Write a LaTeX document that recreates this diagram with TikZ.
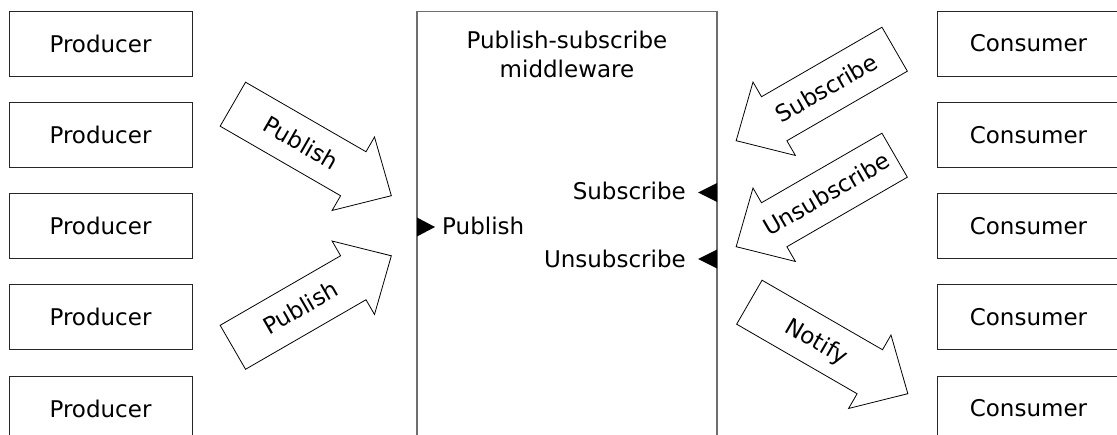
\documentclass[tikz,border=0pt]{standalone}
\usepackage{fontspec}
\setmainfont{DejaVu Sans}
\usetikzlibrary{shapes.arrows}
\definecolor{mwgray}{RGB}{110,110,110}

\begin{document}
\begin{tikzpicture}[x=1pt, y=-1pt,
    font=\fontsize{23}{29}\selectfont,
    box/.style={draw=black!85, line width=0.8pt, minimum width=183pt,
      minimum height=65pt, inner sep=0pt},
    bigarrow/.style={draw, line width=0.8pt, single arrow, minimum height=183pt,
      single arrow head extend=17pt, single arrow tip angle=88,
      text height=17pt, text depth=1pt, inner ysep=16pt, inner xsep=0pt},
    label/.style={inner sep=0pt}]
    \clip (0,0) rectangle (1117,435);

    \foreach \n in {1,...,5} {
      \pgfmathsetmacro\y{43.5 + (\n-1)*91.25}
      \node[box] (prod\n) at (100.5, \y) {Producer};
      \node[box] (cons\n) at (1028.5, \y) {Consumer};
    }

    % the middleware itself
    \node[draw=mwgray, line width=1.2pt, minimum width=300pt, minimum height=440pt,
      anchor=north] (mw) at (567, 11) {};
    \node[align=center, anchor=base, inner sep=0pt] (mwtitle) at (567, 78)
      {Publish-subscribe\\middleware};

    % ports on the middleware
    \coordinate (pubport)   at (417, 227);
    \coordinate (subport)   at (717, 192.5);
    \coordinate (unsubport) at (717, 259);
    \fill (pubport) -- ++(0,-9.5) -- ++(18,9.5) -- ++(-18,9.5) -- cycle;
    \fill (subport) -- ++(0,-9.5) -- ++(-19,9.5) -- ++(19,9.5) -- cycle;
    \fill (unsubport) -- ++(0,-9.5) -- ++(-19,9.5) -- ++(19,9.5) -- cycle;
    \node[label, anchor=base west] (publbl)   at (442, 235) {Publish};
    \node[label, anchor=base east] (sublbl)   at (686, 200) {Subscribe};
    \node[label, anchor=base east] (unsublbl) at (686, 268) {Unsubscribe};

    % big hollow arrows
    \node[bigarrow, rotate=-30, anchor=tail] (pub1) at (232.5, 104) {Publish};
    \node[bigarrow, rotate=30, anchor=tail] (pub2) at (232.5, 347.5) {Publish};
    \node[bigarrow, rotate=30, shape border rotate=180, anchor=tail] (sub)
      at (895, 49) {Subscribe};
    \node[bigarrow, rotate=30, shape border rotate=180, anchor=tail] (unsub)
      at (895, 155) {Unsubscribe};
    \node[bigarrow, rotate=-30, anchor=tail] (notify) at (749, 302) {Notify};

  \end{tikzpicture}
\end{document}
